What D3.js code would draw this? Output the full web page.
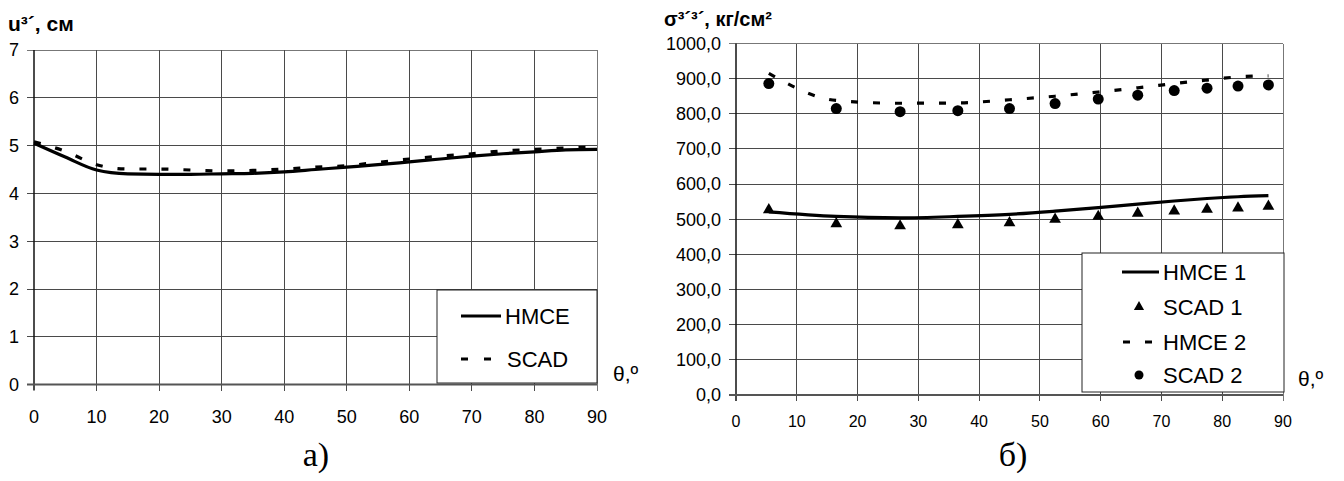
<!DOCTYPE html>
<html>
<head>
<meta charset="utf-8">
<script src="https://cdn.jsdelivr.net/npm/d3@7"></script>
<style>
  body { margin: 0; background: #fff; }
  svg { display: block; }
  text { font-family: "Liberation Sans", Arial, sans-serif; fill: #000; }
</style>
</head>
<body>
<div id="chart"></div>
<script>
// --- chart a): displacement u, cm
const thetaA = [0, 5, 10, 15, 20, 25, 30, 35, 40, 45, 50, 55, 60, 65, 70, 75, 80, 85, 90]
const hmceA  = [5.05, 4.76, 4.49, 4.41, 4.40, 4.40, 4.41, 4.42, 4.45, 4.50, 4.55, 4.60, 4.66, 4.72, 4.78, 4.83, 4.87, 4.91, 4.92]
const scadA  = [5.08, 4.88, 4.60, 4.51, 4.51, 4.49, 4.47, 4.48, 4.51, 4.55, 4.58, 4.65, 4.72, 4.78, 4.83, 4.89, 4.92, 4.95, 4.97]
const yTicksA = [0, 1, 2, 3, 4, 5, 6, 7]

// --- chart б): stress sigma, kg/cm2
const thetaB = [5.4, 16.5, 27, 36.5, 45, 52.5, 59.6, 66.1, 72.1, 77.5, 82.6, 87.6]
const hmce1  = [521, 508, 504, 508, 514, 523, 533, 543, 552, 559, 564, 567]
const scad1  = [527, 487, 481, 484, 490, 500, 508, 517, 523, 528, 532, 537]
const hmce2  = [915, 838, 830, 831, 840, 850, 862, 874, 886, 896, 905, 908]
const scad2  = [886, 815, 806, 809, 815, 829, 842, 853, 866, 873, 879, 882]
const yTicksB = [0, 100, 200, 300, 400, 500, 600, 700, 800, 900, 1000]

const xTicks = [0, 10, 20, 30, 40, 50, 60, 70, 80, 90]

const width = 1344
const height = 481

const svg = d3.select("#chart")
    .append("svg")
    .attr("width", width)
    .attr("height", height)

const gridColor = "#4a4a4a"

function drawFrame(x, y, yTicks, fmt) {
    const g = svg.append("g")
    const [x0, x1] = x.range()
    const [y0, y1] = y.range()

    // horizontal grid
    g.selectAll(".hg")
        .data(yTicks)
        .join("line")
        .attr("x1", x0 - 7).attr("x2", x1)
        .attr("y1", d => y(d)).attr("y2", d => y(d))
        .attr("stroke", (d, i) => i == yTicks.length - 1 ? "#777" : gridColor)
        .attr("stroke-width", 1)
        .attr("shape-rendering", "crispEdges")

    // vertical grid
    g.selectAll(".vg")
        .data(xTicks.slice(1))
        .join("line")
        .attr("x1", d => x(d)).attr("x2", d => x(d))
        .attr("y1", y1).attr("y2", y0 + 6)
        .attr("stroke", d => d == 90 ? "#777" : gridColor)
        .attr("stroke-width", 1)
        .attr("shape-rendering", "crispEdges")

    // axes
    g.append("line")
        .attr("x1", x0).attr("x2", x0)
        .attr("y1", y1).attr("y2", y0 + 6)
        .attr("stroke", "#111").attr("stroke-width", 1.5)
    g.append("line")
        .attr("x1", x0 - 7).attr("x2", x1)
        .attr("y1", y0).attr("y2", y0)
        .attr("stroke", "#555").attr("stroke-width", 2)

    g.selectAll(".yl")
        .data(yTicks)
        .join("text")
        .attr("x", x0 - 15)
        .attr("y", d => y(d))
        .attr("dy", "0.35em")
        .attr("text-anchor", "end")
        .style("font-size", "18px")
        .text(fmt)

    return g
}

function drawLegend(x, y, w, h) {
    const g = svg.append("g")
    g.append("rect")
        .attr("x", x).attr("y", y)
        .attr("width", w).attr("height", h)
        .attr("fill", "#fff")
        .attr("stroke", "#222")
        .attr("stroke-width", 1)
    return g
}

// ================= chart a)
const xA = d3.scaleLinear().domain([0, 90]).range([34, 597])
const yA = d3.scaleLinear().domain([0, 7]).range([384.6, 50])

drawFrame(xA, yA, yTicksA, d => d)

svg.append("g")
    .selectAll("text")
    .data(xTicks)
    .join("text")
    .attr("x", d => xA(d))
    .attr("y", 417)
    .attr("dy", "0.35em")
    .attr("text-anchor", "middle")
    .style("font-size", "18px")
    .text(d => d)

const lineA = d3.line()
    .x(d => xA(d[0]))
    .y(d => yA(d[1]))
    .curve(d3.curveMonotoneX)

svg.append("path")
    .datum(d3.zip(thetaA, hmceA))
    .attr("d", lineA)
    .attr("fill", "none")
    .attr("stroke", "#000")
    .attr("stroke-width", 3.2)

svg.append("path")
    .datum(d3.zip(thetaA, scadA))
    .attr("d", lineA)
    .attr("fill", "none")
    .attr("stroke", "#000")
    .attr("stroke-width", 3.2)
    .attr("stroke-dasharray", "7,15")

const legA = drawLegend(437, 290, 160, 93)
legA.append("line")
    .attr("x1", 461).attr("x2", 501)
    .attr("y1", 316).attr("y2", 316)
    .attr("stroke", "#000").attr("stroke-width", 3.2)
legA.append("text")
    .attr("x", 505).attr("y", 316).attr("dy", "0.35em")
    .style("font-size", "22px").text("HMCE")
legA.append("line")
    .attr("x1", 461).attr("x2", 492)
    .attr("y1", 359).attr("y2", 359)
    .attr("stroke", "#000").attr("stroke-width", 3.2)
    .attr("stroke-dasharray", "7,16")
legA.append("text")
    .attr("x", 507).attr("y", 359).attr("dy", "0.35em")
    .style("font-size", "22px").text("SCAD")

svg.append("text")
    .attr("x", 613).attr("y", 381)
    .style("font-size", "21px")
    .text("θ,º")

svg.append("text")
    .attr("x", 8).attr("y", 31)
    .style("font-size", "21px")
    .style("font-weight", "bold")
    .text("u³´, см")

svg.append("text")
    .attr("x", 316).attr("y", 466)
    .attr("text-anchor", "middle")
    .style("font-family", "'Liberation Serif', 'Times New Roman', serif")
    .style("font-size", "34px")
    .text("a)")

// ================= chart б)
const xB = d3.scaleLinear().domain([0, 90]).range([736, 1283])
const yB = d3.scaleLinear().domain([0, 1000]).range([395, 43.5])

drawFrame(xB, yB, yTicksB, d => d.toFixed(1).replace(".", ","))

svg.append("g")
    .selectAll("text")
    .data(xTicks)
    .join("text")
    .attr("x", d => xB(d))
    .attr("y", 421)
    .attr("dy", "0.35em")
    .attr("text-anchor", "middle")
    .style("font-size", "16px")
    .text(d => d)

const lineB = d3.line()
    .x(d => xB(d[0]))
    .y(d => yB(d[1]))
    .curve(d3.curveMonotoneX)

svg.append("path")
    .datum(d3.zip(thetaB, hmce1))
    .attr("d", lineB)
    .attr("fill", "none")
    .attr("stroke", "#000")
    .attr("stroke-width", 3.2)

svg.append("path")
    .datum(d3.zip(thetaB, hmce2))
    .attr("d", lineB)
    .attr("fill", "none")
    .attr("stroke", "#000")
    .attr("stroke-width", 3.2)
    .attr("stroke-dasharray", "7,15")

const tri = d3.symbol().type(d3.symbolTriangle).size(60)

svg.append("g")
    .selectAll("path")
    .data(d3.zip(thetaB, scad1))
    .join("path")
    .attr("d", tri)
    .attr("transform", d => `translate(${xB(d[0])},${yB(d[1])})`)
    .attr("fill", "#000")

svg.append("g")
    .selectAll("circle")
    .data(d3.zip(thetaB, scad2))
    .join("circle")
    .attr("cx", d => xB(d[0]))
    .attr("cy", d => yB(d[1]))
    .attr("r", 5.5)
    .attr("fill", "#000")

const legB = drawLegend(1082, 253, 202, 139)
legB.append("line")
    .attr("x1", 1122).attr("x2", 1159)
    .attr("y1", 272).attr("y2", 272)
    .attr("stroke", "#000").attr("stroke-width", 3.2)
legB.append("path")
    .attr("d", d3.symbol().type(d3.symbolTriangle).size(45))
    .attr("transform", "translate(1139,307)")
legB.append("line")
    .attr("x1", 1123).attr("x2", 1153)
    .attr("y1", 342).attr("y2", 342)
    .attr("stroke", "#000").attr("stroke-width", 3.2)
    .attr("stroke-dasharray", "7,15")
legB.append("circle")
    .attr("cx", 1139).attr("cy", 375).attr("r", 4.5)

legB.selectAll("text")
    .data(["HMCE 1", "SCAD 1", "HMCE 2", "SCAD 2"])
    .join("text")
    .attr("x", 1163)
    .attr("y", (d, i) => [272, 307, 342, 375][i])
    .attr("dy", "0.35em")
    .style("font-size", "22px")
    .text(d => d)

svg.append("text")
    .attr("x", 1298).attr("y", 386)
    .style("font-size", "21px")
    .text("θ,º")

svg.append("text")
    .attr("x", 664).attr("y", 26)
    .style("font-size", "20px")
    .style("font-weight", "bold")
    .text("σ³´³´, кг/см²")

svg.append("text")
    .attr("x", 1013).attr("y", 466)
    .attr("text-anchor", "middle")
    .style("font-family", "'Liberation Serif', 'Times New Roman', serif")
    .style("font-size", "34px")
    .text("б)")
</script>
</body>
</html>
